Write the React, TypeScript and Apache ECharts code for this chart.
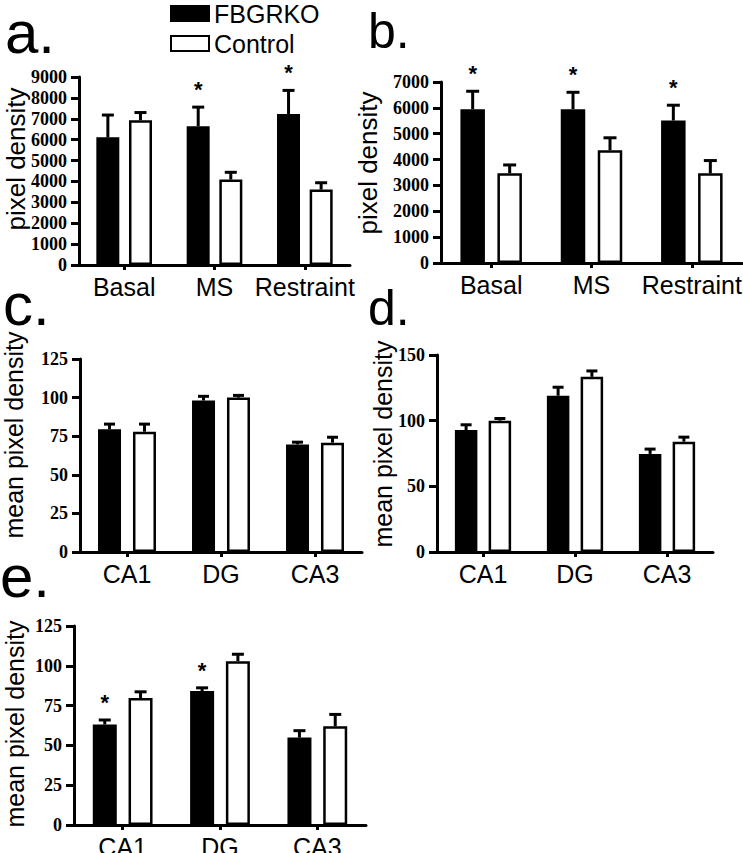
import React, { useEffect, useRef } from "react";
import * as echarts from "echarts";

// ---- data ----
const catsStress = ["Basal", "MS", "Restraint"];
const catsRegion = ["CA1", "DG", "CA3"];

const aKO = [6110, 6640, 7230];
const aKOErr = [1140, 990, 1200];
const aCtl = [6930, 4090, 3610];
const aCtlErr = [440, 420, 400];
const aSig = [0, 1, 1];

const bKO = [5950, 5950, 5510];
const bKOErr = [750, 710, 650];
const bCtl = [3470, 4360, 3470];
const bCtlErr = [380, 540, 550];
const bSig = [1, 1, 1];

const cKO = [79.5, 98.1, 69.7];
const cKOErr = [4.3, 3.7, 2.4];
const cCtl = [77.9, 100, 70.8];
const cCtlErr = [5.9, 2.4, 4.5];
const cSig = [0, 0, 0];

const dKO = [92.9, 119, 74.7];
const dKOErr = [5.1, 7.6, 4.8];
const dCtl = [100, 133.4, 84];
const dCtlErr = [2.8, 5.6, 4.6];
const dSig = [0, 0, 0];

const eKO = [63.1, 84.1, 54.9];
const eKOErr = [3.8, 3.0, 5.3];
const eCtl = [79.8, 102.9, 62];
const eCtlErr = [4.8, 5.3, 8.4];
const eSig = [1, 1, 0];

const yMax = [9000, 7000, 125, 150, 125];
const yInterval = [1000, 1000, 25, 50, 25];
const seriesNames = ["FBGRKO", "Control"];
const panelLetters = ["a.", "b.", "c.", "d.", "e."];
const yNames = ["pixel density", "pixel density", "mean pixel density", "mean pixel density", "mean pixel density"];

const SANS = "'Liberation Sans', Arial, sans-serif";
const SERIF = "'Liberation Serif', 'Times New Roman', serif";

export default function App() {
  const ref = useRef<HTMLDivElement>(null);

  useEffect(() => {
    document.body.style.margin = "0";
    if (!ref.current) return;
    const chart = echarts.init(ref.current, undefined, { renderer: "svg" });

    const panels = [
      { cats: catsStress, ko: aKO, koErr: aKOErr, ctl: aCtl, ctlErr: aCtlErr, sig: aSig,
        grid: { left: 79, top: 77, width: 271, height: 188 }, bw: 23, gap: "42%", off: 16.3, cap: 6 },
      { cats: catsStress, ko: bKO, koErr: bKOErr, ctl: bCtl, ctlErr: bCtlErr, sig: bSig,
        grid: { left: 441, top: 82, width: 301, height: 181 }, bw: 24.5, gap: "51%", off: 18.5, cap: 6.5 },
      { cats: catsRegion, ko: cKO, koErr: cKOErr, ctl: cCtl, ctlErr: cCtlErr, sig: cSig,
        grid: { left: 80, top: 359, width: 282, height: 193 }, bw: 23, gap: "52%", off: 17.5, cap: 5.5 },
      { cats: catsRegion, ko: dKO, koErr: dKOErr, ctl: dCtl, ctlErr: dCtlErr, sig: dSig,
        grid: { left: 437, top: 355, width: 276, height: 197 }, bw: 22.5, gap: "50%", off: 16.9, cap: 5.5 },
      { cats: catsRegion, ko: eKO, koErr: eKOErr, ctl: eCtl, ctlErr: eCtlErr, sig: eSig,
        grid: { left: 74, top: 626, width: 292, height: 199 }, bw: 24, gap: "49%", off: 17.9, cap: 6 },
    ];

    const grids: any[] = [];
    const xAxes: any[] = [];
    const yAxes: any[] = [];
    const series: any[] = [];

    const errSeries = (i: number, vals: number[], errs: number[], sig: number[], off: number, cap: number) => ({
      type: "custom",
      xAxisIndex: i,
      yAxisIndex: i,
      z: 5,
      clip: false,
      silent: true,
      encode: { x: 0, y: 1 },
      data: vals.map((v, k) => [k, v, errs[k], sig[k]]),
      renderItem: (_p: any, api: any) => {
        const cat = api.value(0);
        const v = api.value(1);
        const e = api.value(2);
        const s = api.value(3);
        const base = api.coord([cat, v]);
        const top = api.coord([cat, v + e]);
        const x = base[0] + off;
        const capY = top[1] + 1.5;
        const children: any[] = [
          { type: "line", shape: { x1: x, y1: base[1], x2: x, y2: capY }, style: { stroke: "#000", lineWidth: 3 } },
          { type: "line", shape: { x1: x - cap, y1: capY, x2: x + cap, y2: capY }, style: { stroke: "#000", lineWidth: 3 } },
        ];
        if (s) {
          children.push({
            type: "text",
            x,
            y: top[1] - 16,
            style: { text: "*", fontSize: 22, fontWeight: "bold", fontFamily: SANS, fill: "#000", align: "center", verticalAlign: "middle" },
          });
        }
        return { type: "group", children };
      },
    });

    panels.forEach((p, i) => {
      grids.push({ ...p.grid, containLabel: false, outerBoundsMode: "none" });
      xAxes.push({
        type: "category",
        gridIndex: i,
        data: p.cats,
        boundaryGap: true,
        axisLine: { show: true, lineStyle: { color: "#000", width: 3 } },
        axisTick: { show: true, alignWithLabel: true, length: 5, lineStyle: { color: "#000", width: 3 } },
        axisLabel: { color: "#000", fontSize: 25, fontFamily: SANS, margin: 9, interval: 0 },
        splitLine: { show: false },
      });
      yAxes.push({
        type: "value",
        gridIndex: i,
        min: 0,
        max: yMax[i],
        interval: yInterval[i],
        axisLine: { show: true, lineStyle: { color: "#000", width: 3 } },
        axisTick: { show: true, length: 8, lineStyle: { color: "#000", width: 3 } },
        axisLabel: {
          color: "#000",
          fontSize: 18,
          fontWeight: "bold",
          fontFamily: SERIF,
          margin: 12,
          formatter: (v: number) => String(v),
        },
        splitLine: { show: false },
      });
      series.push({
        type: "bar",
        name: seriesNames[0],
        xAxisIndex: i,
        yAxisIndex: i,
        data: p.ko,
        barWidth: p.bw,
        barGap: p.gap,
        itemStyle: { color: "#000", borderColor: "#000", borderWidth: 2.5 },
        silent: true,
      });
      series.push({
        type: "bar",
        name: seriesNames[1],
        xAxisIndex: i,
        yAxisIndex: i,
        data: p.ctl,
        barWidth: p.bw,
        barGap: p.gap,
        itemStyle: { color: "#fff", borderColor: "#000", borderWidth: 2.5 },
        silent: true,
      });
      series.push(errSeries(i, p.ko, p.koErr, p.sig, -p.off, p.cap));
      series.push(errSeries(i, p.ctl, p.ctlErr, [0, 0, 0], p.off, p.cap));
    });

    const letterPos = [
      { x: 5, y: 32, size: 60 },
      { x: 368, y: 31, size: 50 },
      { x: 3, y: 304, size: 60 },
      { x: 368, y: 308, size: 50 },
      { x: 0, y: 576, size: 60 },
    ];
    const namePos = [
      { x: 16, y: 159, size: 26 },
      { x: 368, y: 163, size: 26 },
      { x: 14, y: 435, size: 25 },
      { x: 383, y: 444, size: 25 },
      { x: 15, y: 724, size: 25 },
    ];

    const graphics: any[] = [];
    panelLetters.forEach((t, i) => {
      graphics.push({
        type: "text",
        x: letterPos[i].x,
        y: letterPos[i].y,
        style: { text: t, fontSize: letterPos[i].size, fontFamily: SANS, fill: "#000", align: "left", verticalAlign: "middle" },
        silent: true,
      });
    });
    yNames.forEach((t, i) => {
      graphics.push({
        type: "text",
        x: namePos[i].x,
        y: namePos[i].y,
        rotation: Math.PI / 2,
        style: { text: t, fontSize: namePos[i].size, fontFamily: SANS, fill: "#000", align: "center", verticalAlign: "middle" },
        silent: true,
      });
    });

    chart.setOption({
      animation: false,
      backgroundColor: "#fff",
      legend: {
        data: seriesNames,
        orient: "vertical",
        left: 170,
        top: 1,
        padding: 0,
        icon: "rect",
        itemWidth: 38,
        itemHeight: 15,
        itemGap: 5,
        selectedMode: false,
        textStyle: { color: "#000", fontSize: 25, fontFamily: SANS, lineHeight: 25 },
      },
      grid: grids,
      xAxis: xAxes,
      yAxis: yAxes,
      series,
      graphic: graphics,
    });

    return () => chart.dispose();
  }, []);

  return <div ref={ref} style={{ width: 743, height: 853 }} />;
}
